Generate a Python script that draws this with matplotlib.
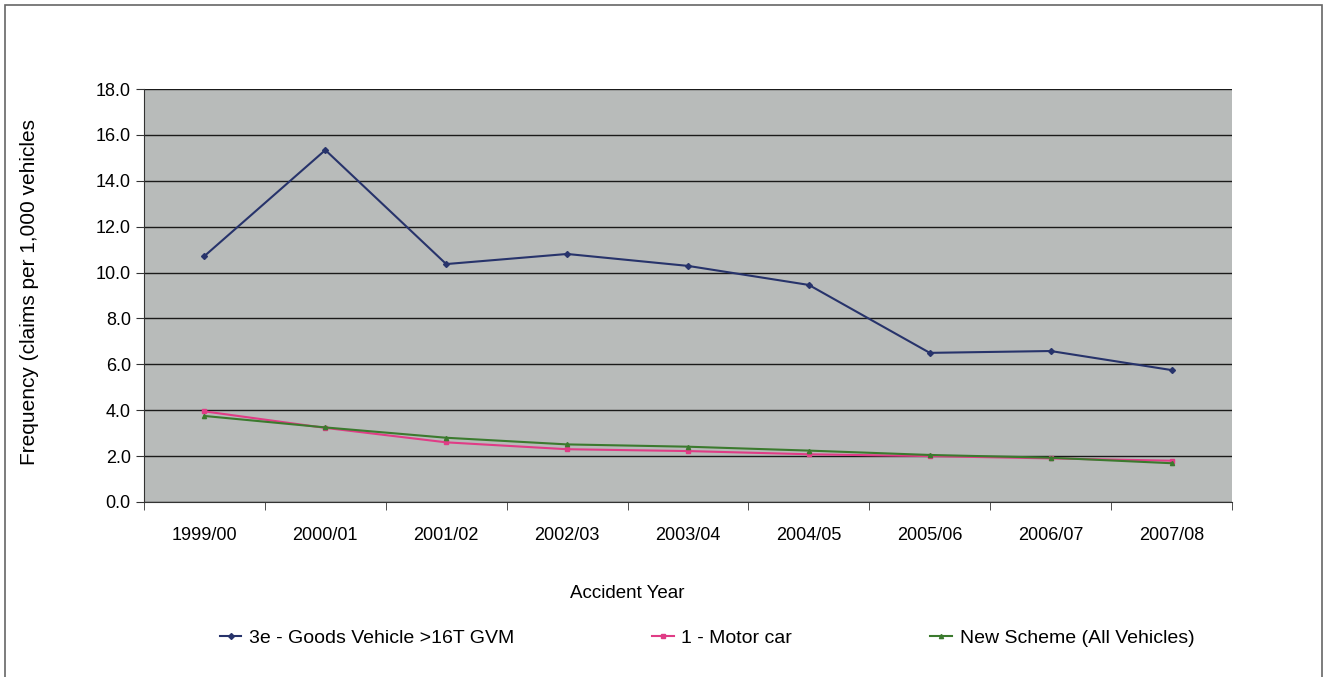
import matplotlib
matplotlib.use("Agg")
import matplotlib.pyplot as plt
from matplotlib.patches import Rectangle

years = ["1999/00", "2000/01", "2001/02", "2002/03", "2003/04",
         "2004/05", "2005/06", "2006/07", "2007/08"]
goods_vehicle = [10.72, 15.34, 10.37, 10.81, 10.29, 9.46, 6.50, 6.58, 5.75]
motor_car = [3.95, 3.23, 2.60, 2.30, 2.22, 2.08, 2.00, 1.90, 1.80]
new_scheme = [3.75, 3.25, 2.80, 2.51, 2.41, 2.24, 2.05, 1.93, 1.69]
yticks = [0, 2, 4, 6, 8, 10, 12, 14, 16, 18]

plt.rcParams['font.family'] = ['Liberation Sans', 'DejaVu Sans']

W, H = 1326, 677
fig = plt.figure(figsize=(W / 100, H / 100), dpi=100)
ax = fig.add_axes([144 / W, 1 - 502 / H, (1232 - 144) / W, (502 - 89) / H])

# outer frame (bottom edge runs past the image, as in the scan)
fig.patches.append(Rectangle((5 / W, -0.05), (1322 - 5) / W, 1.05 - 5 / H,
                             transform=fig.transFigure, fill=False,
                             edgecolor="#666666", linewidth=1.2))

ax.set_facecolor("#b8bbba")
x = list(range(len(years)))
ax.plot(x, goods_vehicle, color="#27336b", lw=1.5, marker="D", ms=3,
        label="3e - Goods Vehicle >16T GVM", zorder=4)
ax.plot(x, motor_car, color="#e03c86", lw=1.5, marker="s", ms=3,
        label="1 - Motor car", zorder=3)
ax.plot(x, new_scheme, color="#3b7a2e", lw=1.5, marker="^", ms=3,
        label="New Scheme (All Vehicles)", zorder=4)

ax.set_xlim(-0.5, len(years) - 0.5)
ax.set_ylim(0, 18)
ax.set_yticks(yticks)
ax.set_yticklabels([f"{v:.1f}" for v in yticks], fontsize=13)
ax.yaxis.grid(True, color="#1a1a1a", lw=1.0)
ax.set_axisbelow(True)

ax.set_xticks(x)
ax.set_xticklabels(years, fontsize=13)
ax.tick_params(axis="x", length=0, pad=18)
ax.set_xticks([i - 0.5 for i in range(len(years) + 1)], minor=True)
ax.tick_params(axis="x", which="minor", length=6, direction="out", color="#333333")
ax.tick_params(axis="y", length=6, direction="out", color="#333333")

for s in ["top", "right"]:
    ax.spines[s].set_visible(False)
ax.spines["left"].set_color("#333333")
ax.spines["bottom"].set_color("#333333")

fig.text(627 / W, 1 - 593 / H, "Accident Year", fontsize=13.5,
         ha="center", va="center")
fig.text(30 / W, 1 - 292 / H, "Frequency (claims per 1,000 vehicles", fontsize=15,
         ha="center", va="center", rotation=90)

fig.legend(loc="center", bbox_to_anchor=(707 / W, 1 - 638 / H), ncol=3, frameon=False,
           fontsize=14, columnspacing=7.1, handlelength=1.1, handletextpad=0.4)

fig.savefig("out.png", dpi=100, facecolor="white")
